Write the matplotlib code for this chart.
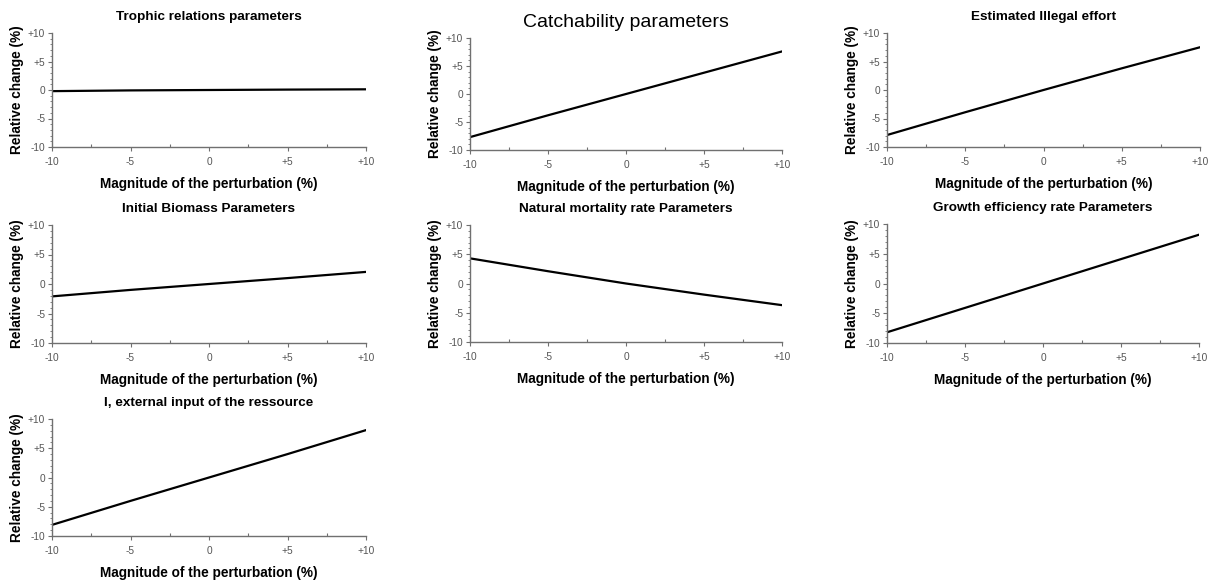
import matplotlib
matplotlib.use("Agg")
import matplotlib.pyplot as plt
from matplotlib.ticker import MultipleLocator, FixedLocator

plt.rcParams['font.family'] = ['Liberation Sans', 'DejaVu Sans']

W, H = 1211, 582

x_vals = [-10, -5, 0, 5, 10]
tick_vals = [-10, -5, 0, 5, 10]
tick_labels = ["-10", "-5", "0", "+5", "+10"]

titles = [
    "Trophic relations parameters",
    "Catchability parameters",
    "Estimated Illegal effort",
    "Initial Biomass Parameters",
    "Natural mortality rate Parameters",
    "Growth efficiency rate Parameters",
    "I, external input of the ressource",
]

trophic = [-0.2, -0.07, 0.0, 0.07, 0.12]
catchability = [-7.7, -3.8, 0.0, 3.8, 7.6]
illegal_effort = [-7.9, -3.9, 0.0, 3.8, 7.5]
initial_biomass = [-2.1, -1.0, 0.0, 1.0, 2.05]
natural_mortality = [4.3, 2.1, 0.0, -1.9, -3.7]
growth_efficiency = [-8.2, -4.1, 0.0, 4.1, 8.2]
external_input = [-8.1, -4.0, 0.0, 4.0, 8.1]

series = [trophic, catchability, illegal_effort, initial_biomass,
          natural_mortality, growth_efficiency, external_input]

# pixel boxes (left, right, top, bottom)
boxes = [
    (52, 366, 33, 147),
    (470, 782, 38, 150),
    (887, 1200, 33, 147),
    (52, 366, 225, 343),
    (470, 782, 225, 342),
    (887, 1199, 224, 343),
    (52, 366, 419, 536),
]

fig = plt.figure(figsize=(W / 100, H / 100), dpi=100)
gray = '#707070'

for i, (title, ys, (l, r, t, b)) in enumerate(zip(titles, series, boxes)):
    ax = fig.add_axes([l / W, 1 - b / H, (r - l) / W, (b - t) / H])
    ax.plot(x_vals, ys, color='black', lw=1.6)
    ax.set_xlim(-10, 10)
    ax.set_ylim(-10, 10)
    ax.spines['top'].set_visible(False)
    ax.spines['right'].set_visible(False)
    for s in ('left', 'bottom'):
        ax.spines[s].set_color(gray)
        ax.spines[s].set_linewidth(1.0)
    ax.xaxis.set_major_locator(FixedLocator(tick_vals))
    ax.yaxis.set_major_locator(FixedLocator(tick_vals))
    ax.set_xticklabels(tick_labels)
    ax.set_yticklabels(tick_labels)
    ax.xaxis.set_minor_locator(MultipleLocator(2.5))
    ax.yaxis.set_minor_locator(MultipleLocator(1))
    ax.tick_params(which='major', length=3, width=0.8, color=gray,
                   labelsize=7.3, labelcolor='#555555')
    ax.tick_params(axis='x', which='major', pad=4.5)
    ax.tick_params(axis='y', which='major', pad=2)
    ax.tick_params(axis='x', which='minor', direction='in', length=2.5,
                   width=0.8, color=gray)
    ax.tick_params(axis='y', which='minor', direction='out', length=1.5,
                   width=0.6, color=gray)
    if i == 1:
        ax.set_title(title, fontsize=14, fontweight='normal', pad=8)
    else:
        ax.set_title(title, fontsize=9.7, fontweight='bold', pad=9.5)
    ax.set_xlabel("Magnitude of the perturbation (%)", fontsize=9.8,
                  fontweight='bold', labelpad=7)
    ax.set_ylabel("Relative change (%)", fontsize=9.8, fontweight='bold',
                  labelpad=3)

fig.savefig("out.png", dpi=100)
